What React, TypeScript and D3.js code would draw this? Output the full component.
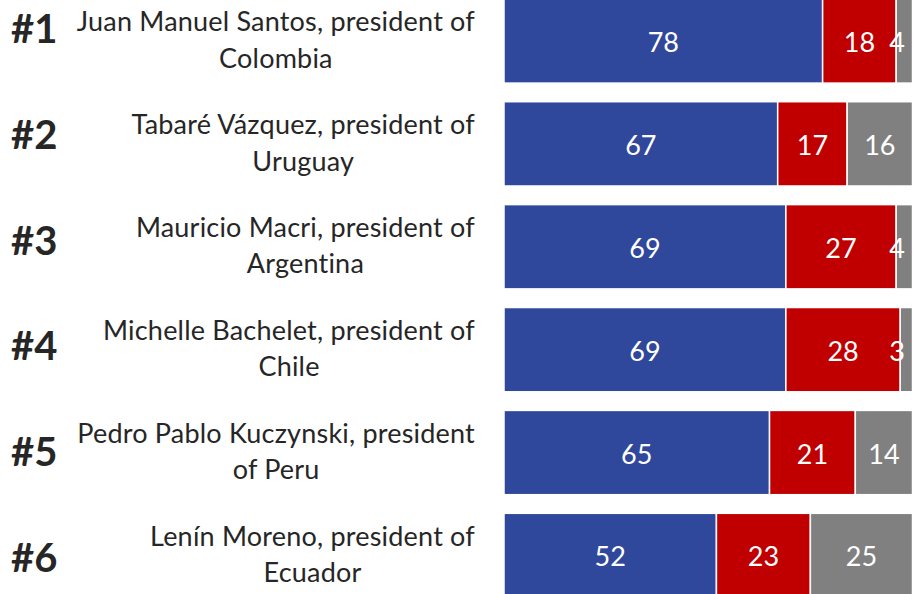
import React, { useEffect, useRef } from "react";
import * as d3 from "d3";

const ranks = ["#1", "#2", "#3", "#4", "#5", "#6"];
const nameLine1 = [
  "Juan Manuel Santos, president of",
  "Tabaré Vázquez, president of",
  "Mauricio Macri, president of",
  "Michelle Bachelet, president of",
  "Pedro Pablo Kuczynski, president",
  "Lenín Moreno, president of",
];
const nameLine2 = ["Colombia", "Uruguay", "Argentina", "Chile", "of Peru", "Ecuador"];
const approve = [78, 67, 69, 69, 65, 52];
const disapprove = [18, 17, 27, 28, 21, 23];
const noAnswer = [4, 16, 4, 3, 14, 25];
const seriesKeys = ["approve", "disapprove", "noAnswer"];
const seriesColors = ["#2f489b", "#c00000", "#808080"];

const W = 914;
const H = 594;

export default function App() {
  const ref = useRef<SVGSVGElement | null>(null);

  useEffect(() => {
    document.body.style.margin = "0";
    const svg = d3.select(ref.current);
    svg.selectAll("*").remove();

    const rows = ranks.map((r, i) => ({
      rank: r,
      l1: nameLine1[i],
      l2: nameLine2[i],
      approve: approve[i],
      disapprove: disapprove[i],
      noAnswer: noAnswer[i],
    }));

    const x = d3.scaleLinear().domain([0, 100]).range([504, 912.5]);
    const y = d3
      .scaleBand<string>()
      .domain(ranks)
      .range([-10.5, 606.9])
      .paddingInner(0.181)
      .paddingOuter(0.0905);

    const stacked = d3.stack<any>().keys(seriesKeys)(rows);

    const g = svg.append("g");
    stacked.forEach((layer, li) => {
      const lg = g.append("g");
      lg.selectAll("rect")
        .data(layer)
        .join("rect")
        .attr("x", (d: any) => x(d[0]))
        .attr("y", (d: any) => y(d.data.rank)!)
        .attr("width", (d: any) => x(d[1]) - x(d[0]))
        .attr("height", y.bandwidth())
        .attr("fill", seriesColors[li])
        .attr("stroke", "#ffffff")
        .attr("stroke-width", 1.5);
    });

    stacked.forEach((layer) => {
      g.append("g")
        .selectAll("text")
        .data(layer)
        .join("text")
        .attr("x", (d: any) => Math.min((x(d[0]) + x(d[1])) / 2, 897))
        .attr("y", (d: any) => y(d.data.rank)! + y.bandwidth() / 2 + 11)
        .attr("text-anchor", "middle")
        .attr("fill", "#ffffff")
        .attr("font-family", "Lato, 'Open Sans', sans-serif")
        .attr("font-size", 27)
        .text((d: any) => String(d[1] - d[0]));
    });

    // rank labels
    svg
      .append("g")
      .selectAll("text")
      .data(rows)
      .join("text")
      .attr("x", 11)
      .attr("y", (_d, i) => 43.3 + i * 105.7)
      .attr("fill", "#262626")
      .attr("font-family", "Lato, 'Open Sans', sans-serif")
      .attr("font-weight", 700)
      .attr("font-size", 40)
      .text((d) => d.rank);

    // name labels
    const nameG = svg.append("g");
    rows.forEach((d) => {
      const cy = y(d.rank)! + y.bandwidth() / 2;
      const t1 = nameG
        .append("text")
        .attr("x", 475)
        .attr("y", cy - 9.8)
        .attr("text-anchor", "end")
        .attr("fill", "#262626")
        .attr("font-family", "Lato, 'Open Sans', sans-serif")
        .attr("font-size", 27)
        .attr("letter-spacing", 0.2)
        .text(d.l1);
      const w1 = (t1.node() as SVGTextElement).getComputedTextLength();
      nameG
        .append("text")
        .attr("x", 475 - w1 / 2)
        .attr("y", cy + 26.7)
        .attr("text-anchor", "middle")
        .attr("fill", "#262626")
        .attr("font-family", "Lato, 'Open Sans', sans-serif")
        .attr("font-size", 27)
        .attr("letter-spacing", 0.2)
        .text(d.l2);
    });
  }, []);

  return (
    <svg
      ref={ref}
      width={W}
      height={H}
      style={{ position: "absolute", left: 0, top: 0, display: "block", background: "#ffffff" }}
    />
  );
}
